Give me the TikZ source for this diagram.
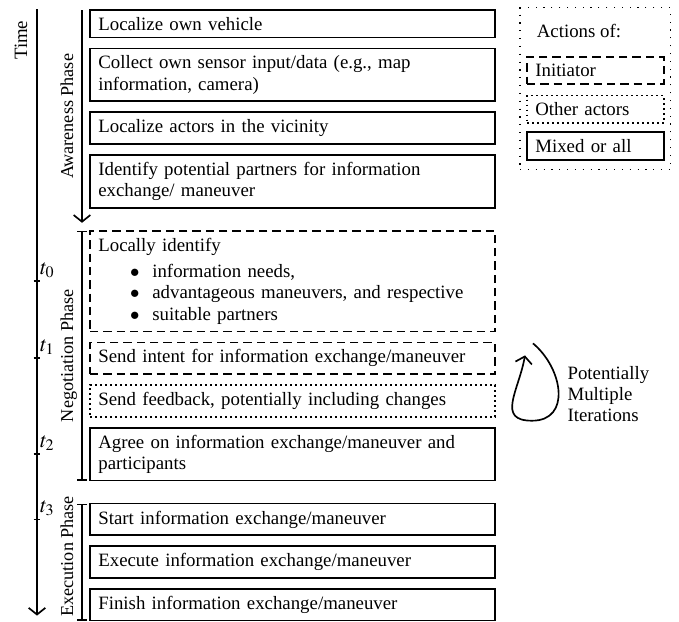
\documentclass[tikz,border=0pt]{standalone}
\usepackage{mathptmx}
\usepackage{fontspec}
\setmainfont{Liberation Serif}
\usetikzlibrary{calc,arrows.meta,positioning,fit}

\hyphenpenalty=10000
\exhyphenpenalty=10000
\newcommand{\bitem}[1]{\hspace*{19pt}\makebox[13.4pt][l]{$\bullet$}#1}

\begin{document}
\begin{tikzpicture}[node distance=6.6pt, font=\fontsize{11.3pt}{12.8pt}\selectfont,
    stepbox/.style={draw, line width=1pt, outer sep=0pt, text width=233pt, align=left, inner xsep=5pt, inner ysep=4.3pt},
    initdash/.style={dash pattern=on 5pt off 3pt},
    legbox/.style={draw, line width=1pt, outer sep=0pt, text width=72pt, align=left, inner xsep=5pt, inner ysep=4.3pt},
    phaselabel/.style={rotate=90, anchor=base, font=\fontsize{10.9pt}{12pt}\selectfont},
    phasebar/.style={arrows={Bar[width=6pt]-Bar[width=6pt]}, line width=1pt},
    >={Straight Barb[length=4pt,width=10pt]}]
  \useasboundingbox (0,0) rectangle (407.4pt,-372.6pt);

  % steps
  \node (localize) [stepbox, anchor=north west] at (54pt,-6pt) {Localize own vehicle};
  \node (sensor) [stepbox, below=of localize] {Collect own sensor input/data (e.g., map information, camera)};
  \node (actors) [stepbox, below=of sensor] {Localize actors in the vicinity};
  \node (partners) [stepbox, below=of actors] {Identify potential partners for information exchange/ maneuver};
  \node (identify) [stepbox, initdash, below=13.8pt of partners] {Locally identify\\[3pt]
    \bitem{information needs,}\\
    \bitem{advantageous maneuvers, and respective}\\
    \bitem{suitable partners}};
  \node (intent) [stepbox, initdash, below=of identify] {Send intent for information exchange/maneuver};
  \node (feedback) [stepbox, dotted, below=of intent] {Send feedback, potentially including changes};
  \node (agree) [stepbox, below=of feedback] {Agree on information exchange/maneuver and participants};
  \node (start) [stepbox, below=13.8pt of agree] {Start information exchange/maneuver};
  \node (execute) [stepbox, below=of start] {Execute information exchange/maneuver};
  \node (finish) [stepbox, below=of execute] {Finish information exchange/maneuver};

  % time axis
  \coordinate (timetop) at ([xshift=-31.8pt,yshift=0.6pt]localize.north west);
  \coordinate (timeend) at ([xshift=-31.8pt,yshift=3pt]finish.south west);
  \draw[->, line width=1pt] (timetop) -- (timeend);
  \node [rotate=90, anchor=base east] at ([xshift=-6pt,yshift=-3.5pt]timetop) {Time};
  \foreach \b/\t in {identify/0, intent/1, agree/2, start/3} {
    \coordinate (tick\t) at (timetop |- \b.west);
    \draw[line width=1pt] ([xshift=-2pt]tick\t) -- ([xshift=2pt]tick\t);
    \node [anchor=south west, inner sep=1.5pt, scale=1.15] at (tick\t) {$t_\t$};
  }

  % phases
  \coordinate (aw1) at ([xshift=-4.8pt]localize.north west);
  \coordinate (aw2) at ([xshift=-4.8pt,yshift=-9pt]partners.south west);
  \coordinate (ng1) at ([xshift=-4.8pt]identify.north west);
  \coordinate (ng2) at ([xshift=-4.8pt]agree.south west);
  \coordinate (ex1) at ([xshift=-4.8pt]start.north west);
  \coordinate (ex2) at ([xshift=-4.8pt]finish.south west);
  \draw[->, line width=1pt] (aw1) -- (aw2);
  \draw[phasebar] (ng1) -- (ng2);
  \draw[phasebar] (ex1) -- (ex2);
  \node [phaselabel] at ([xshift=-5.4pt]$(aw1)!0.5!(aw2)$) {Awareness Phase};
  \node [phaselabel] at ([xshift=-5.4pt]$(ng1)!0.5!(ng2)$) {Negotiation Phase};
  \node [phaselabel] at ([xshift=-5.4pt]$(ex1)!0.45!(ex2)$) {Execution Phase};

  % iterations
  \coordinate (loopin) at ([xshift=22.8pt,yshift=-0.6pt]intent.north east);
  \coordinate (loopbot) at ([xshift=22.2pt,yshift=-2.4pt]feedback.south east);
  \coordinate (loopend) at ([xshift=18pt,yshift=-7.8pt]intent.north east);
  \draw[->, line width=1pt] (loopin) to[out=-40,in=0,looseness=1.3] (loopbot) to[out=180,in=-100,looseness=1.4] (loopend);
  \node (iter) [anchor=west, align=left] at ([xshift=40pt,yshift=-5.4pt]feedback.north east) {Potentially\\Multiple\\Iterations};

  % legend
  \node (legtitle) [anchor=base west] at (318.6pt,-22.2pt) {Actions of:};
  \node (leginit) [legbox, initdash, anchor=north west] at (316.2pt,-34.2pt) {Initiator};
  \node (legother) [legbox, dotted, below=7pt of leginit] {Other actors};
  \node (legmix) [legbox, below=5.4pt of legother] {Mixed or all};
  \node (legend) [draw, loosely dotted, line width=0.7pt, inner xsep=4.2pt, inner ysep=6pt,
    fit=(legtitle)(leginit)(legother)(legmix)] {};
\end{tikzpicture}
\end{document}
